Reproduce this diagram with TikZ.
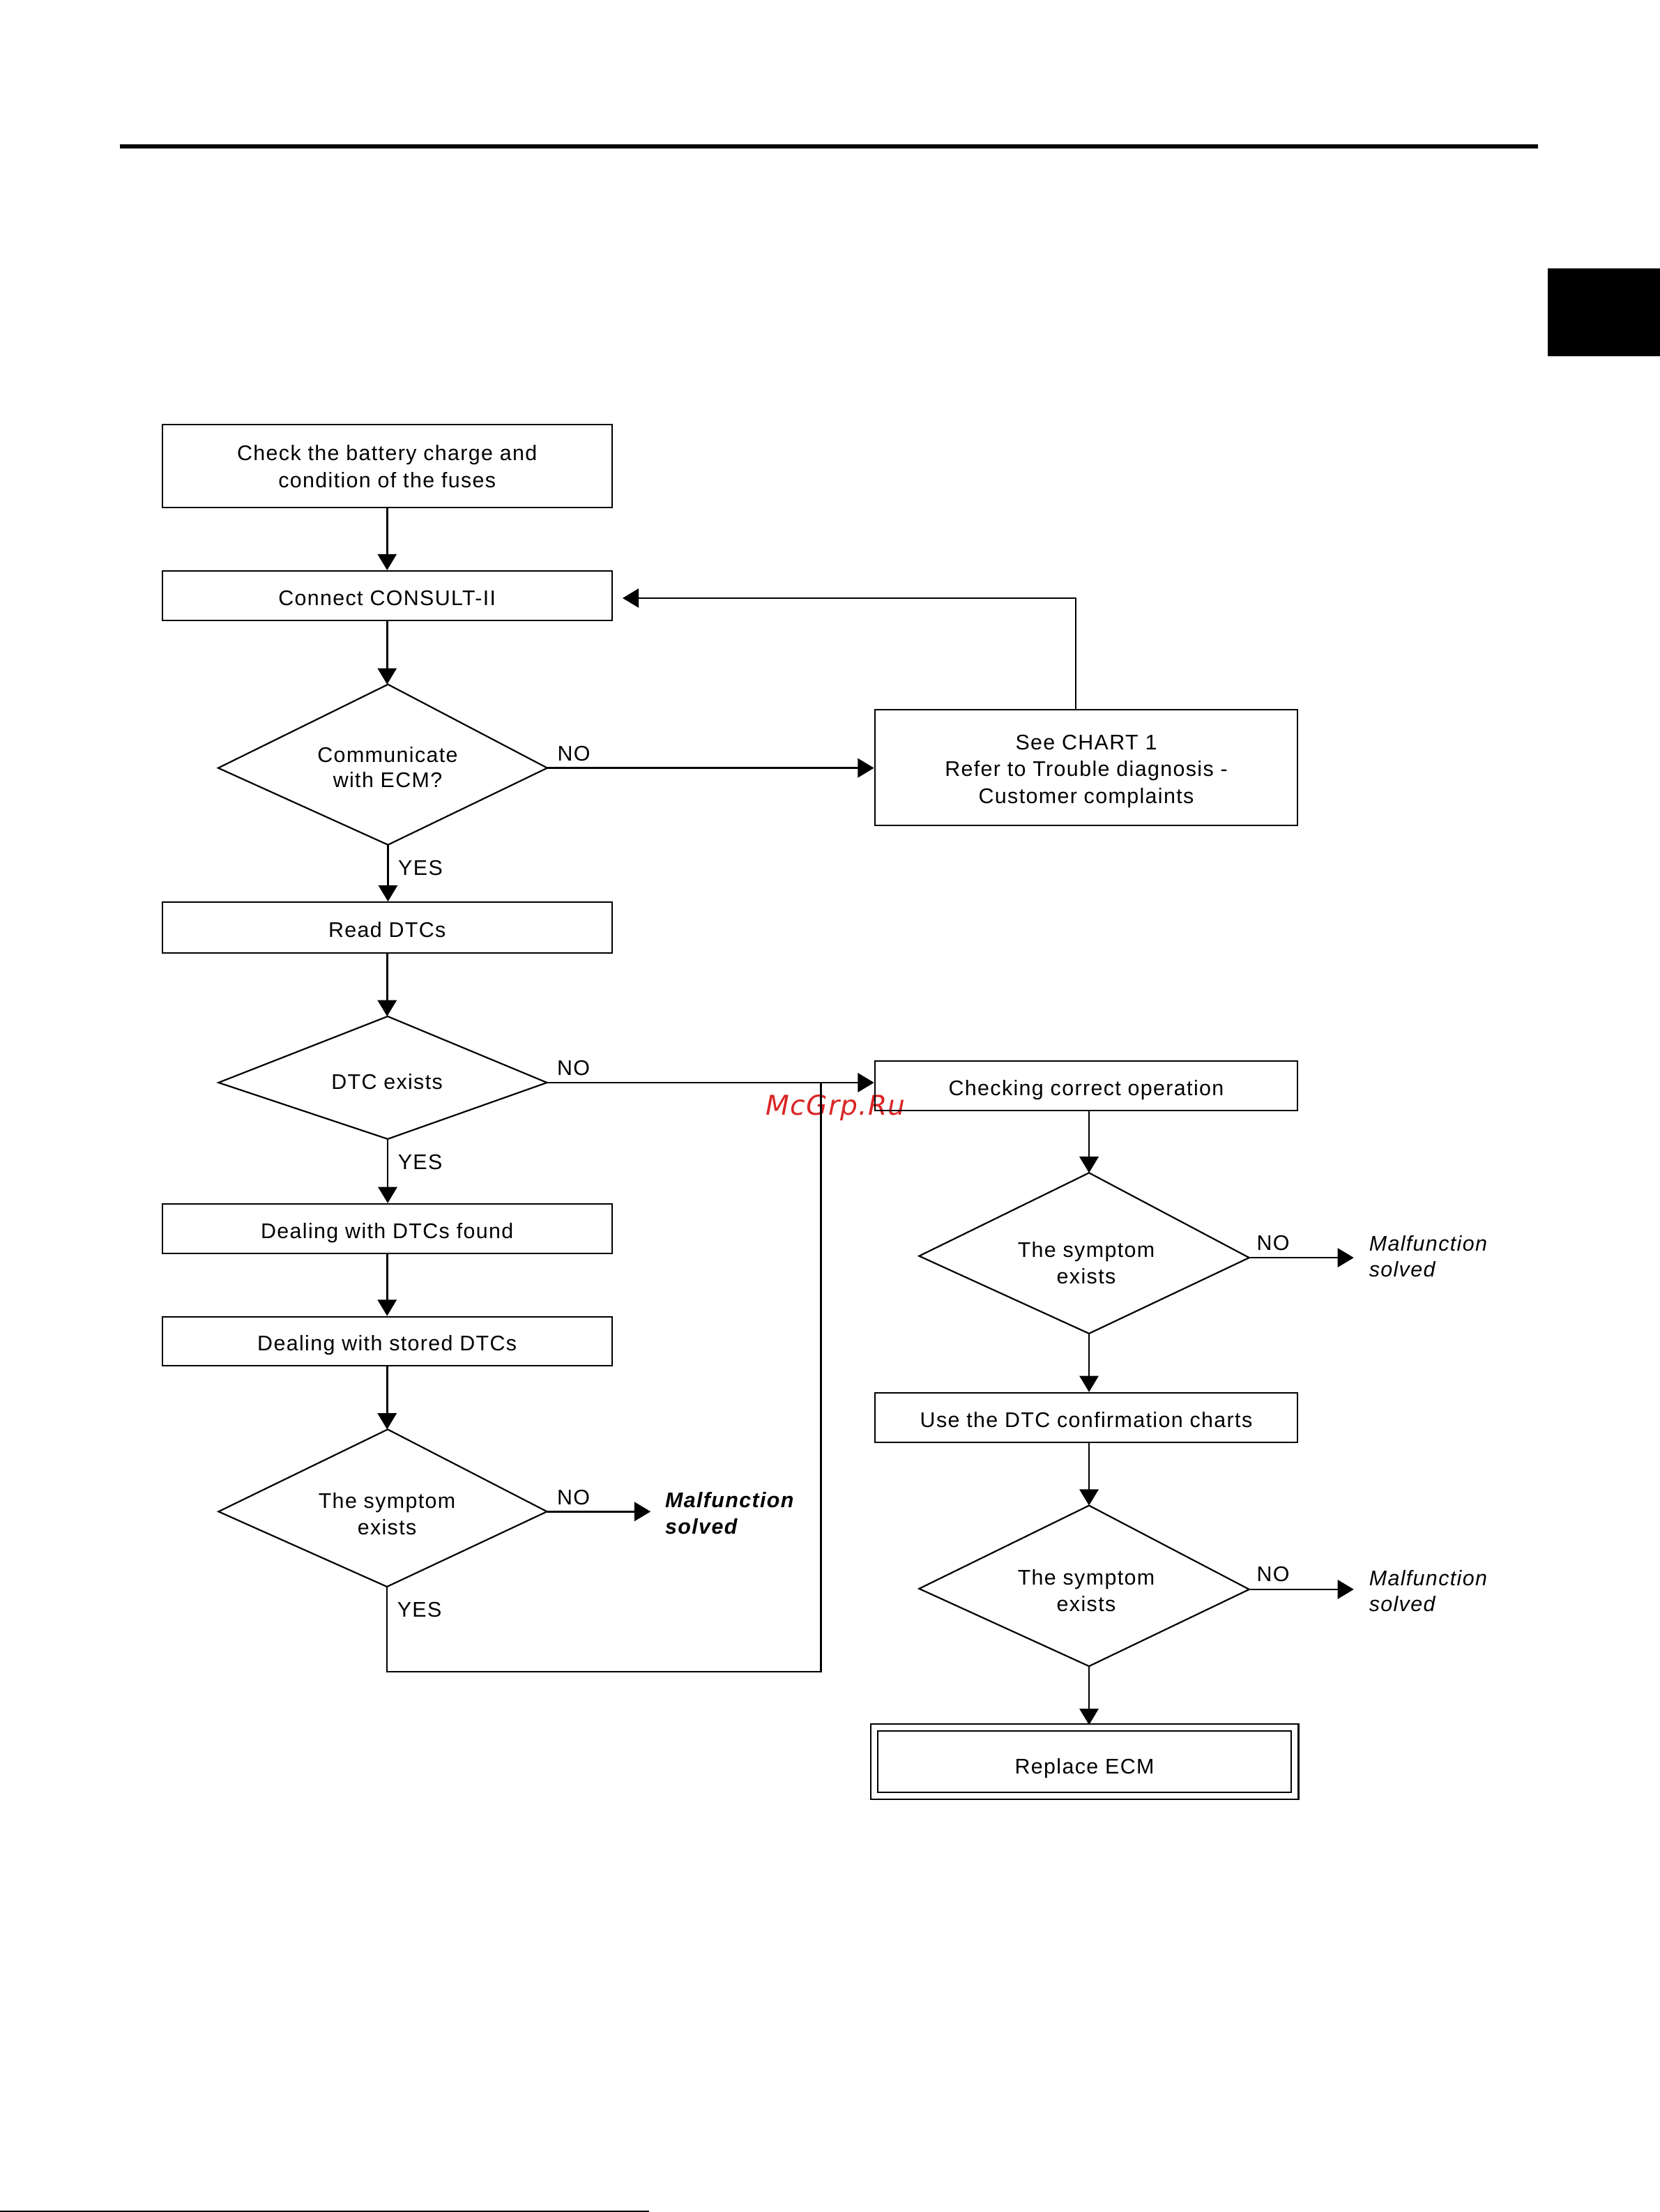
\documentclass[tikz,border=0pt]{standalone}
\usepackage{fontspec}
\setmainfont{Liberation Sans}[LetterSpace=4.5]
\newfontfamily\wmfont{DejaVu Sans}[LetterSpace=3]
\usetikzlibrary{arrows.meta,shapes.geometric}
\newdimen\dpx \dpx=0.5055pt
\definecolor{wmred}{RGB}{218,38,38}
\tikzset{
  box/.style={draw, line width=0.5pt, rectangle, inner sep=0pt, align=center,
    text height=6.95pt, text depth=0pt, font=\fontsize{7.6}{9.6}\selectfont},
  mbox/.style={draw, line width=0.5pt, rectangle, inner sep=0pt},
  dshape/.style={line width=0.55pt, line join=miter},
  conn/.style={line width=0.65pt},
  arr/.style={conn, -{Triangle[length=5.8pt, width=6.8pt]}},
  lbl/.style={inner sep=0pt, font=\fontsize{7.6}{9.6}\selectfont},
  dtext/.style={inner sep=0pt, align=center, anchor=north, font=\fontsize{7.6}{9.6}\selectfont},
  mal/.style={inner sep=0pt, align=left, anchor=north west, font=\fontsize{7.6}{9.6}\selectfont\itshape},
  wm/.style={inner sep=0pt, text=wmred, font=\fontsize{9.8}{11}\selectfont\wmfont\itshape},
}
\begin{document}
\begin{tikzpicture}[x=0.5055pt, y=-0.5055pt]
\useasboundingbox (0,0) rectangle (1177.5,1569.2);
% page furniture
\fill (85,102.4) rectangle (1091,105.2);
\fill (1098,190.4) rectangle (1177.5,252.7);
\fill (0,1568.2) rectangle (460.5,1569.2);
% watermark
\node[wm, anchor=base west] (wm) at (543,791) {McGrp.Ru};

% left column boxes
\node[mbox, minimum width=319.2\dpx, minimum height=59\dpx] (b1) at (274.6,330.5) {};
\node[dtext] (b1t) at (274.6,315.5) {Check the battery charge and\\condition of the fuses};
\node[box, minimum width=319.2\dpx, minimum height=35\dpx] (b2) at (274.6,422.5) {Connect CONSULT-II};
\node[box, minimum width=319.2\dpx, minimum height=36\dpx] (b4) at (274.6,658) {Read DTCs};
\node[box, minimum width=319.2\dpx, minimum height=35\dpx] (b6) at (274.6,871.5) {Dealing with DTCs found};
\node[box, minimum width=319.2\dpx, minimum height=35\dpx] (b7) at (274.6,951.5) {Dealing with stored DTCs};
% right column boxes
\node[mbox, minimum width=300\dpx, minimum height=82\dpx] (b3) at (770.5,544.6) {};
\node[dtext] (b3t) at (770.5,520.9) {See CHART 1\\Refer to Trouble diagnosis -\\Customer complaints};
\node[box, minimum width=300\dpx, minimum height=35.2\dpx] (b5) at (770.5,770.4) {Checking correct operation};
\node[box, minimum width=300\dpx, minimum height=35\dpx] (b8) at (770.5,1005.5) {Use the DTC confirmation charts};
\node[box, double, double distance=1.98pt, line width=0.55pt, text height=9pt, minimum width=298.5\dpx, minimum height=48.5\dpx] (b9) at (769.3,1249.6) {Replace ECM};

% diamonds
\coordinate (d1n) at (275.2,485.5); \coordinate (d1e) at (388.2,544.8);
\coordinate (d1s) at (275.2,599.3); \coordinate (d1w) at (154.8,544.8);
\coordinate (d2n) at (275,721);     \coordinate (d2e) at (388,768);
\coordinate (d2s) at (275,808);     \coordinate (d2w) at (155,768);
\coordinate (d3n) at (275,1014);    \coordinate (d3e) at (388,1072.3);
\coordinate (d3s) at (274.5,1125.6);\coordinate (d3w) at (155,1072.3);
\coordinate (d4n) at (772.5,832);   \coordinate (d4e) at (886.1,892.2);
\coordinate (d4s) at (772.5,946);   \coordinate (d4w) at (652,891);
\coordinate (d5n) at (772.5,1068);  \coordinate (d5e) at (886.1,1127.5);
\coordinate (d5s) at (772.5,1182);  \coordinate (d5w) at (652,1127);
\foreach \d in {d1,d2,d3,d4,d5}{
  \draw[dshape] (\d n) -- (\d e) -- (\d s) -- (\d w) -- cycle;
}
\node[dtext, font=\fontsize{7.6}{9.2}\selectfont] (t1) at (275,529.3) {Communicate\\with ECM?};
\node[lbl, anchor=base] (t2) at (274.5,772.5) {DTC exists};
\node[dtext] (t3) at (274.5,1058.5) {The symptom\\exists};
\node[dtext] (t4) at (770.5,880.5) {The symptom\\exists};
\node[dtext] (t5) at (770.5,1113) {The symptom\\exists};

% connectors
\draw[arr] (b1.south) -- (b2.north);
\draw[arr] (b2.south) -- (b2.south |- d1n);
\draw[arr] (d1e) -- (d1e -| b3.west);
\coordinate (fb) at (441.6,424.3);
\draw[arr] ([xshift=-7.5\dpx]b3.north) |- (fb);
\draw[arr] (d1s) -- (d1s |- b4.north);
\draw[arr] (b4.south) -- (b4.south |- d2n);
\draw[arr] (d2e) -- (d2e -| b5.west);
\draw[arr] (d2s) -- (d2s |- b6.north);
\draw[arr] (b6.south) -- (b7.north);
\draw[arr] (b7.south) -- (b7.south |- d3n);
\coordinate (e3) at (461.5,1072.3);
\draw[arr] (d3e) -- (e3);
\coordinate (j1) at (582.2,1186);
\coordinate (j2) at (582.2,768);
\draw[conn] (d3s) |- (j1) -- (j2);
\draw[arr] (b5.south -| d4n) -- (d4n);
\coordinate (e4) at (960.3,892.2);
\draw[arr] (d4e) -- (e4);
\draw[arr] (d4s) -- (d4s |- b8.north);
\draw[arr] (b8.south -| d5n) -- (d5n);
\coordinate (e5) at (960.3,1127.5);
\draw[arr] (d5e) -- (e5);
\draw[arr] (d5s) -- ([yshift=1.2\dpx]d5s |- b9.north);

% labels
\node[lbl, anchor=base west] (no1) at ([shift={(6.8,-5)}]d1e) {NO};
\node[lbl, anchor=base west] (no2) at ([shift={(6.8,-5)}]d2e) {NO};
\node[lbl, anchor=base west] (no3) at ([shift={(6.8,-5)}]d3e) {NO};
\node[lbl, anchor=base west] (no4) at ([shift={(5,-5.4)}]d4e) {NO};
\node[lbl, anchor=base west] (no5) at ([shift={(5,-5.4)}]d5e) {NO};
\node[lbl, anchor=west] (y1) at ([shift={(6.9,16.3)}]d1s) {YES};
\node[lbl, anchor=west] (y2) at ([shift={(6.9,16.3)}]d2s) {YES};
\node[lbl, anchor=west] (y3) at ([shift={(6.9,16.3)}]d3s) {YES};
\node[mal, font=\fontsize{7.6}{9.6}\selectfont\bfseries\itshape] (m3) at (471.5,1058) {Malfunction\\solved};
\node[mal, font=\fontsize{7.6}{9.3}\selectfont\itshape] (m4) at (970.8,876.3) {Malfunction\\solved};
\node[mal, font=\fontsize{7.6}{9.3}\selectfont\itshape] (m5) at (970.8,1113.6) {Malfunction\\solved};
\end{tikzpicture}
\end{document}
